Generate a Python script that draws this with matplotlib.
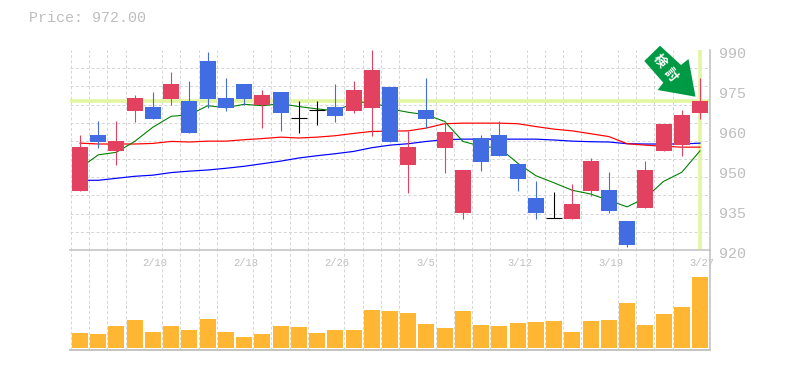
import matplotlib
matplotlib.use("Agg")
import matplotlib.pyplot as plt
from matplotlib.patches import Polygon
from matplotlib.transforms import ScaledTranslation

W, H = 785, 370
GRAY = "#c4c4c4"
GRID = "#d6d6d6"
TXT = "#bebebe"
MONO = "Liberation Mono"

opens = [940.8, 960.3, 954.7, 968.7, 970.1, 972.9, 972.2, 986.2, 973.2, 978.1, 970.8, 975.3, 966.1, 968.9,
         970.1, 968.7, 969.8, 977.1, 949.9, 969.1, 955.8, 933.1, 959.3, 960.3, 950.2, 938.3, 931.2, 931.0,
         940.8, 941.1, 930.3, 934.8, 954.7, 956.8, 968.0]
closes = [956.1, 957.9, 958.2, 973.2, 965.9, 978.1, 961.0, 972.9, 969.8, 972.9, 974.3, 968.0, 966.1, 968.9,
          967.0, 976.0, 983.0, 957.9, 956.1, 966.0, 961.4, 948.1, 950.9, 953.0, 945.0, 933.1, 931.2, 936.2,
          951.3, 933.8, 921.9, 948.1, 964.2, 967.3, 972.2]
highs = [960.3, 965.2, 965.2, 974.3, 975.3, 982.3, 979.2, 989.3, 980.2, 978.1, 976.0, 975.3, 972.2, 972.2,
         978.1, 979.2, 990.0, 977.1, 961.7, 980.2, 965.2, 947.4, 960.3, 965.2, 950.2, 944.3, 940.4, 943.2,
         952.3, 947.4, 930.3, 951.3, 964.2, 969.1, 980.2]
lows = [940.8, 955.8, 949.9, 964.9, 965.9, 970.8, 961.0, 969.8, 968.7, 970.8, 962.8, 961.7, 961.0, 963.8,
        964.9, 968.0, 960.0, 957.9, 940.1, 962.8, 947.1, 931.0, 947.8, 953.0, 940.8, 931.0, 931.2, 931.0,
        939.0, 933.1, 920.9, 934.8, 954.7, 953.0, 965.9]
ma_green = [948.7, 953.3, 954.2, 958.0, 963.0, 966.8, 967.3, 970.5, 969.8, 971.0, 970.5, 971.2, 970.2, 969.4,
            968.7, 971.4, 972.0, 969.4, 968.2, 967.3, 965.0, 958.0, 956.3, 955.7, 950.4, 946.0, 943.5, 940.9,
            939.6, 937.4, 935.1, 938.2, 944.0, 947.2, 954.7]
ma_red = [957.4, 957.1, 957.1, 957.1, 957.3, 958.0, 957.8, 958.1, 958.1, 958.6, 959.0, 959.5, 959.2, 959.5,
          960.0, 960.8, 961.5, 961.6, 961.7, 962.7, 964.2, 964.4, 964.4, 964.4, 964.2, 963.2, 962.3, 961.7,
          960.7, 959.7, 957.2, 956.7, 956.3, 956.0, 956.0]
ma_blue = [944.4, 944.4, 945.1, 945.8, 946.2, 947.1, 947.6, 948.0, 948.6, 949.3, 950.2, 951.1, 952.2, 953.0,
           953.7, 954.5, 955.8, 956.7, 957.2, 958.0, 958.6, 958.8, 958.8, 958.8, 958.8, 958.8, 958.5, 958.1,
           957.9, 957.8, 957.2, 957.1, 957.1, 957.1, 957.4]
volumes = [15, 14, 22, 28, 16, 22, 18, 29, 16, 11, 14, 22, 21, 15, 18, 18, 38, 37, 35, 24, 20, 37, 23, 22,
           25, 26, 27, 16, 27, 28, 45, 23, 34, 41, 71]
last_price = 972
date_labels = ["2/10", "2/18", "2/26", "3/5", "3/12", "3/19", "3/27"]
date_slots = [3.5, 8.5, 13.5, 18.5, 23.5, 28.5, 33.5]
price_labels = ["920", "935", "950", "960", "975", "990"]
price_slots = [920, 934, 948, 962, 976, 990]

UP = "#e2425f"
DOWN = "#416ce2"
FLAT = "#000000"
VOL = "#ffb733"
HILITE = "#e2f5a0"
ARROW = "#009944"

px = 1 / 100 * 72  # points per pixel
fig = plt.figure(figsize=(W / 100, H / 100), dpi=100)


def box(x0, y0, x1, y1):
    return [x0 / W, 1 - y1 / H, (x1 - x0) / W, (y1 - y0) / H]


L, R, T, M, B = 70, 710, 50, 250, 350
ax = fig.add_axes(box(L, T, R, M))
av = fig.add_axes(box(L, M, R, B), sharex=ax)
xlim = ((L - 80) / 18.235, (R - 80) / 18.235)
n = len(opens)
slots = [i - 0.5 for i in range(n + 1)]
DASH = (0, (3, 2.2))

# price panel
ax.set_xlim(*xlim)
ax.set_ylim(920, 990)
ax.set_axisbelow(True)
ax.set_yticks(price_slots, price_labels)
ax.set_yticks([920 + 70 * k / 11 for k in range(12)], minor=True)
ax.set_xticks(slots, minor=True)
ax.grid(which="minor", color=GRID, lw=1.0 * px, ls=DASH)
ax.grid(which="major", visible=False)
ax.yaxis.tick_right()
ax.tick_params(axis="y", which="both", length=0, pad=9.5 * px, labelcolor=TXT, labelsize=15 * px)
ax.tick_params(axis="x", which="both", length=0, labelbottom=False)
shift = ScaledTranslation(0, -3 / 100, fig.dpi_scale_trans)
for lab in ax.get_yticklabels():
    lab.set_family(MONO)
    lab.set_transform(lab.get_transform() + shift)

ax.axhline(last_price, color=HILITE, lw=3.6 * px, zorder=1)
ax.axvline(n - 1, color=HILITE, lw=3.6 * px, ymin=0, ymax=0.995, zorder=1)

xs = list(range(n))
ax.plot(xs, ma_blue, color="#0000ff", lw=1.2 * px, zorder=2)
ax.plot(xs, ma_red, color="#ff0000", lw=1.2 * px, zorder=2)
ax.plot(xs, ma_green, color="#007f00", lw=1.1 * px, zorder=2)

for i, (o, c, h, l) in enumerate(zip(opens, closes, highs, lows)):
    col = FLAT if o == c else (UP if c > o else DOWN)
    ax.vlines(i, l, h, color=col, lw=1.1 * px, zorder=3)
    if o == c:
        ax.hlines(o, i - 0.44, i + 0.44, color=col, lw=1.1 * px, zorder=3)
    else:
        ax.bar(i, abs(o - c), bottom=min(o, c), width=0.877, color=col, lw=0, zorder=4)

# volume panel
av.set_ylim(-2, 98)
av.set_axisbelow(True)
av.set_xticks(date_slots, date_labels)
av.set_xticks(slots, minor=True)
av.set_yticks([])
av.grid(axis="x", which="minor", color=GRID, lw=1.0 * px, ls=DASH)
av.grid(axis="x", which="major", visible=False)
av.bar(xs, volumes, width=0.877, color=VOL, lw=0, zorder=3)
av.xaxis.tick_top()
av.tick_params(axis="x", which="both", length=0, pad=-17.5 * px, labelcolor=TXT, labelsize=10.5 * px,
               labeltop=True, labelbottom=False)
xshift = ScaledTranslation(-1.5 / 100, 0, fig.dpi_scale_trans)
for lab in av.get_xticklabels():
    lab.set_family(MONO)
    lab.set_ha("left")
    lab.set_clip_on(False)
    lab.set_zorder(6)
    lab.set_transform(lab.get_transform() + xshift)

for a in (ax, av):
    a.set_facecolor("none")
    for s in a.spines.values():
        s.set_color(GRAY)
        s.set_linewidth(1.6 * px)
    a.spines["left"].set_visible(False)
ax.spines["top"].set_visible(False)
ax.spines["bottom"].set_visible(False)
av.spines["bottom"].set_linewidth(2 * px)


def P(x, y):
    return (x / W, 1 - y / H)


arrow_px = [(660, 45.7), (681, 65), (688.5, 59), (695.5, 96.7), (657.7, 90), (663.3, 82.7), (644.3, 61)]
fig.add_artist(Polygon([P(*p) for p in arrow_px], closed=True, transform=fig.transFigure,
                       facecolor=ARROW, edgecolor="none", zorder=10))
for gx, gy, ch in [(660, 61, "検"), (671, 75, "討")]:
    fig.text(*P(gx, gy), ch, color="white", rotation=-50, ha="center", va="center",
             family=["Noto Sans CJK JP", "DejaVu Sans"], fontsize=13 * px, fontweight="bold", zorder=11)
fig.text(*P(29, 18), "Price: 972.00", color=TXT, family=MONO, fontsize=15 * px, ha="left", va="center")

fig.savefig("out.png", dpi=100)
